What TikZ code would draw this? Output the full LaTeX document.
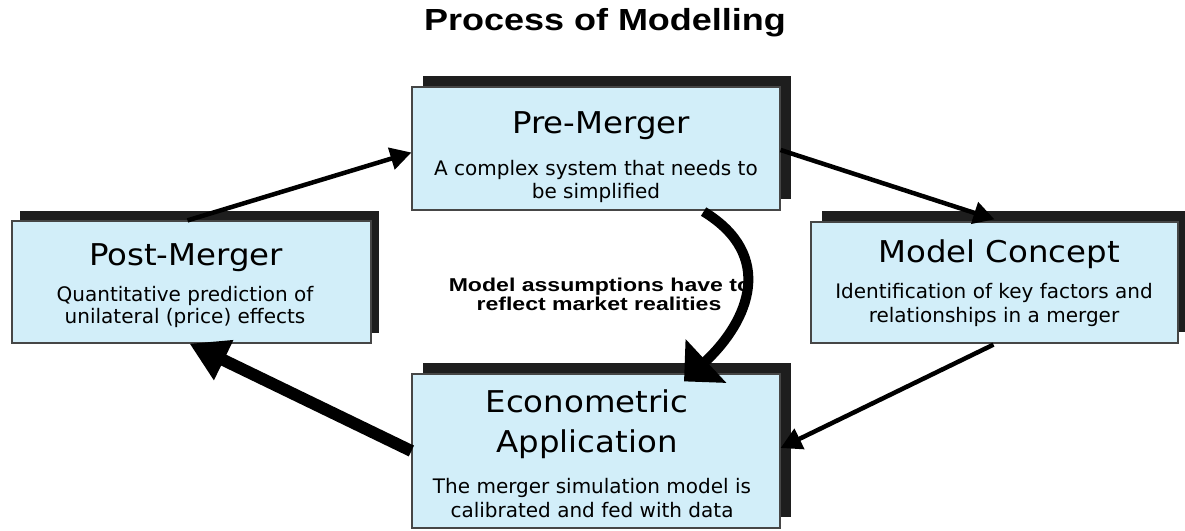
\documentclass[tikz,border=0pt]{standalone}
\usepackage{fontspec}
\usetikzlibrary{arrows.meta,shadows}
\newfontfamily\lblfont[FakeStretch=1.24]{Liberation Sans}
\newfontfamily\ttlfont[FakeStretch=1.18]{Liberation Sans}
\newfontfamily\btfont[FakeStretch=1.08]{DejaVu Sans}
\newfontfamily\bsfont{DejaVu Sans}
\definecolor{boxblue}{RGB}{210,238,249}
\definecolor{boxline}{RGB}{70,70,70}
\definecolor{shadowcol}{RGB}{30,30,30}
\tikzset{
  boxbase/.style={rectangle, draw=boxline, line width=1.2pt, fill=boxblue, inner sep=0pt},
  box/.style={boxbase, general shadow={fill=shadowcol, shadow xshift=10.5pt, shadow yshift=11pt}},
  btitle/.style={anchor=base, inner sep=0pt, font=\btfont\fontsize{30}{36}\selectfont},
  bsub/.style={anchor=base, inner sep=0pt, font=\bsfont\fontsize{20}{24}\selectfont},
  lbl/.style={anchor=base, inner sep=0pt, font=\lblfont\bfseries\fontsize{18.6}{22}\selectfont},
  thin/.style={line width=4.5pt, -{Triangle[length=21pt,width=22pt]}},
  thick/.style={line width=12pt, -{Triangle[length=38pt,width=42pt]}},
}
\begin{document}
\begin{tikzpicture}[x=1pt,y=-1pt]
\useasboundingbox (0,0) rectangle (1185,530);
% title
\node[anchor=base, inner sep=0pt, font=\ttlfont\bfseries\fontsize{30.5}{36}\selectfont] (title) at (605,30) {Process of Modelling};
% boxes
\node[box, minimum width=368pt, minimum height=123pt] (pre) at (596,148.5) {};
\node[boxbase, minimum width=359pt, minimum height=122pt,
  general shadow={fill=shadowcol, shadow xshift=8pt, shadow yshift=10pt}] (post) at (191.5,282) {};
\node[box, minimum width=367pt, minimum height=121pt] (model) at (994.5,282.5) {};
\node[box, minimum width=368pt, minimum height=154pt] (econ) at (596,451) {};
% texts
\node[btitle] (pret) at (601,133) {Pre-Merger};
\node[bsub] (pres1) at (596,175) {A complex system that needs to};
\node[bsub] (pres2) at (596,198) {be simplified};
\node[btitle] (postt) at (186,265) {Post-Merger};
\node[bsub] (posts1) at (185,301) {Quantitative prediction of};
\node[bsub] (posts2) at (185,323) {unilateral (price) effects};
\node[btitle] (modelt) at (999,262) {Model Concept};
\node[bsub] (models1) at (994,298) {Identification of key factors and};
\node[bsub] (models2) at (994,322) {relationships in a merger};
\node[btitle] (econt1) at (587,412) {Econometric};
\node[btitle] (econt2) at (587,452) {Application};
\node[bsub] (econs1) at (592,493) {The merger simulation model is};
\node[bsub] (econs2) at (592,517) {calibrated and fed with data};
% middle label
\node[lbl] (lab1) at (600,291) {Model assumptions have to};
\node[lbl] (lab2) at (599,310) {reflect market realities};
% connectors
\draw[thin] ([xshift=-4pt]post.north) -- ([yshift=-4pt]pre.west);
\draw[thin] ([yshift=-1.5pt]pre.east) -- ([yshift=2pt]model.north);
\draw[thin] ([xshift=-1pt,yshift=-1pt]model.south) -- ([yshift=3pt]econ.east);
\draw[thick] (econ.west) -- ([xshift=-2pt]post.south);
\draw[line width=10pt, -{Triangle[length=30pt,width=58pt]}]
  ([xshift=-77pt,yshift=-1pt]pre.south east) .. controls (775,255) and (750,320) .. ([xshift=88pt,yshift=-8pt]econ.north);
\end{tikzpicture}
\end{document}
